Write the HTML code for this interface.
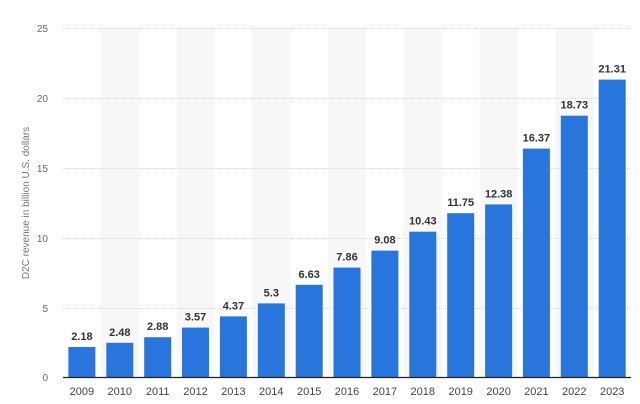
<!DOCTYPE html>
<html><head><meta charset="utf-8"><style>
html,body{margin:0;padding:0;background:#fff;}
svg{display:block;font-family:"Liberation Sans",Arial,sans-serif;}
</style></head><body>
<svg width="640" height="404" viewBox="0 0 640 404">
<g fill="#f7f7f7">
<rect x="100.9" y="28" width="37.9" height="349.7"/>
<rect x="176.6" y="28" width="37.9" height="349.7"/>
<rect x="252.4" y="28" width="37.9" height="349.7"/>
<rect x="328.1" y="28" width="37.9" height="349.7"/>
<rect x="403.9" y="28" width="37.9" height="349.7"/>
<rect x="479.6" y="28" width="37.9" height="349.7"/>
<rect x="555.4" y="28" width="37.9" height="349.7"/>
</g>
<g stroke="#d8d8d8" stroke-width="1" stroke-dasharray="1,1">
<line x1="63" x2="631" y1="28.5" y2="28.5"/>
<line x1="63" x2="631" y1="98.5" y2="98.5"/>
<line x1="63" x2="631" y1="168.5" y2="168.5"/>
<line x1="63" x2="631" y1="238.5" y2="238.5"/>
<line x1="63" x2="631" y1="308.5" y2="308.5"/>
</g>
<g fill="#666" font-size="10" text-anchor="end">
<text x="48" y="32">25</text>
<text x="48" y="102">20</text>
<text x="48" y="172">15</text>
<text x="48" y="242">10</text>
<text x="48" y="312">5</text>
<text x="48" y="381">0</text>
</g>
<text transform="translate(29,203) rotate(-90)" fill="#777" font-size="10" text-anchor="middle">D2C revenue in billion U.S. dollars</text>
<g fill="#2876dd">
<rect x="68.4" y="347.0" width="27" height="30.5"/>
<rect x="106.3" y="342.8" width="27" height="34.7"/>
<rect x="144.2" y="337.2" width="27" height="40.3"/>
<rect x="182.0" y="327.6" width="27" height="49.9"/>
<rect x="219.9" y="316.4" width="27" height="61.1"/>
<rect x="257.8" y="303.4" width="27" height="74.1"/>
<rect x="295.7" y="284.8" width="27" height="92.7"/>
<rect x="333.5" y="267.6" width="27" height="109.9"/>
<rect x="371.4" y="250.6" width="27" height="126.9"/>
<rect x="409.3" y="231.7" width="27" height="145.8"/>
<rect x="447.2" y="213.2" width="27" height="164.3"/>
<rect x="485.1" y="204.4" width="27" height="173.1"/>
<rect x="522.9" y="148.6" width="27" height="228.9"/>
<rect x="560.8" y="115.7" width="27" height="261.8"/>
<rect x="598.7" y="79.6" width="27" height="297.9"/>
</g>
<g font-size="11" font-weight="bold" fill="#333" text-anchor="middle">
<text x="81.9" y="340">2.18</text>
<text x="119.8" y="335.8">2.48</text>
<text x="157.7" y="330.2">2.88</text>
<text x="195.5" y="320.6">3.57</text>
<text x="233.4" y="309.4">4.37</text>
<text x="271.3" y="296.4">5.3</text>
<text x="309.2" y="277.8">6.63</text>
<text x="347.0" y="260.6">7.86</text>
<text x="384.9" y="243.6">9.08</text>
<text x="422.8" y="224.7">10.43</text>
<text x="460.7" y="206.2">11.75</text>
<text x="498.6" y="197.4">12.38</text>
<text x="536.4" y="141.6">16.37</text>
<text x="574.3" y="108.7">18.73</text>
<text x="612.2" y="72.6">21.31</text>
</g>
<g font-size="11" fill="#444" text-anchor="middle">
<text x="81.9" y="395">2009</text>
<text x="119.8" y="395">2010</text>
<text x="157.7" y="395">2011</text>
<text x="195.5" y="395">2012</text>
<text x="233.4" y="395">2013</text>
<text x="271.3" y="395">2014</text>
<text x="309.2" y="395">2015</text>
<text x="347.0" y="395">2016</text>
<text x="384.9" y="395">2017</text>
<text x="422.8" y="395">2018</text>
<text x="460.7" y="395">2019</text>
<text x="498.6" y="395">2020</text>
<text x="536.4" y="395">2021</text>
<text x="574.3" y="395">2022</text>
<text x="612.2" y="395">2023</text>
</g>
<line x1="63" x2="631" y1="377.5" y2="377.5" stroke="#222" stroke-width="1.2"/>
</svg>
</body></html>
